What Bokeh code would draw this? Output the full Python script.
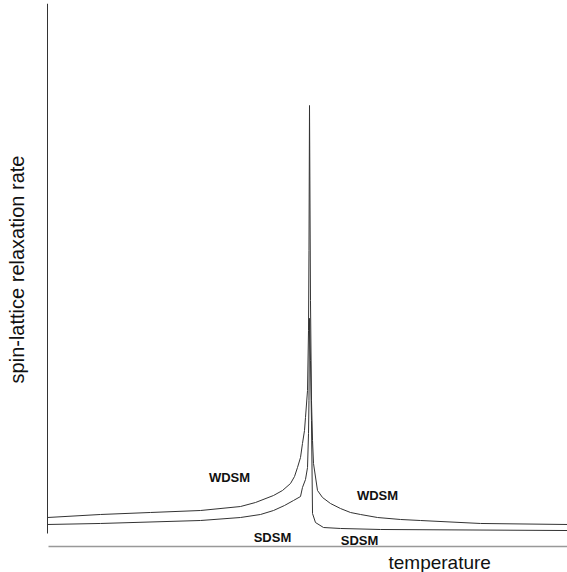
import math
from bokeh.plotting import figure
from bokeh.models import Range1d, FixedTicker, Label
from bokeh.embed import file_html
from bokeh.resources import INLINE

# Reduced temperature T/Tc and relaxation rate (arbitrary units)
wdsm_t = [0.4962, 0.5981, 0.6942, 0.7904, 0.8673, 0.8962, 0.9308, 0.9481, 0.9635,
          0.9712, 0.9769, 0.9827, 0.9865, 0.9904, 0.9923, 0.9962, 0.9981, 0.9990,
          1.0000, 1.0019, 1.0038, 1.0058, 1.0077, 1.0154, 1.0250, 1.0404, 1.0596,
          1.0788, 1.0981, 1.1308, 1.1750, 1.2135, 1.3288, 1.4962]
wdsm_rate = [5.39, 5.95, 6.32, 6.69, 7.43, 8.18, 9.48, 10.41, 11.71,
             13.01, 14.68, 16.54, 19.14, 21.56, 23.98, 29.0, 40.1, 55.0,
             81.97, 45.7, 27.1, 19.7, 15.43, 10.41, 9.11, 7.99, 7.06,
             6.32, 5.95, 5.39, 5.02, 4.83, 4.28, 4.09]

sdsm_t = [0.4962, 0.5981, 0.7904, 0.8673, 0.9058, 0.9308, 0.9519, 0.9692, 0.9827,
          0.9865, 0.9923, 0.9962, 0.9981, 0.9990, 1.0000, 1.0019, 1.0038, 1.0058,
          1.0115, 1.0269, 1.0596, 1.1365, 1.4962]
sdsm_rate = [4.09, 4.28, 4.83, 5.39, 5.95, 6.69, 7.62, 8.55, 9.29,
             10.97, 12.45, 14.68, 21.0, 27.1, 42.4, 34.6, 23.4, 6.13,
             4.46, 3.53, 3.35, 3.16, 2.97]

t_min, t_max = 0.4962, 1.4962      # extent of the temperature axis
rate_axis_min = 2.42               # lower end of the rate axis line

p = figure(width=567, height=572, output_backend="svg", toolbar_location=None,
           x_range=Range1d(0.40577, 1.49615), y_range=Range1d(-4.833, 100.93),
           min_border_left=0, min_border_right=0, min_border_top=3,
           min_border_bottom=0)
p.outline_line_color = None
p.grid.visible = False
p.background_fill_color = "white"
p.border_fill_color = "white"

for ax in (p.xaxis[0], p.yaxis[0]):
    ax.ticker = FixedTicker(ticks=[])
    ax.major_tick_line_color = None
    ax.minor_tick_line_color = None
    ax.major_tick_out = 0
    ax.major_tick_in = 0
    ax.minor_tick_out = 0
    ax.minor_tick_in = 0
    ax.major_label_standoff = 0
    ax.major_label_text_font_size = "0px"

yax = p.yaxis[0]
yax.fixed_location = t_min
yax.bounds = (rate_axis_min, 100.93)
yax.axis_line_color = "#333333"
yax.axis_line_width = 1

xax = p.xaxis[0]
xax.fixed_location = 0
xax.bounds = (t_min + 0.0019, t_max)
xax.axis_line_color = "#999999"
xax.axis_line_width = 1.5

p.line(wdsm_t, wdsm_rate, line_color="#333333", line_width=1)
p.line(sdsm_t, sdsm_rate, line_color="#333333", line_width=1)

def add_label(x, y, text, size, style, align="center", baseline="middle", angle=0.0):
    p.add_layout(Label(x=x, y=y, text=text, text_font="Liberation Sans",
                       text_font_size=size, text_font_style=style,
                       text_align=align, text_baseline=baseline, angle=angle,
                       text_color="#111111"))

add_label(0.8462, 12.83, "WDSM", "13px", "bold")
add_label(1.1308, 9.48, "WDSM", "13px", "bold")
add_label(0.9288, 1.67, "SDSM", "13px", "bold")
add_label(1.0962, 1.12, "SDSM", "13px", "bold")
add_label(1.1519, -0.93, "temperature", "19px", "normal", align="left", baseline="top")
add_label(0.43846, 51.49, "spin-lattice relaxation rate", "20px", "normal",
          angle=math.pi / 2)

open("out.html", "w").write(file_html(p, INLINE))
